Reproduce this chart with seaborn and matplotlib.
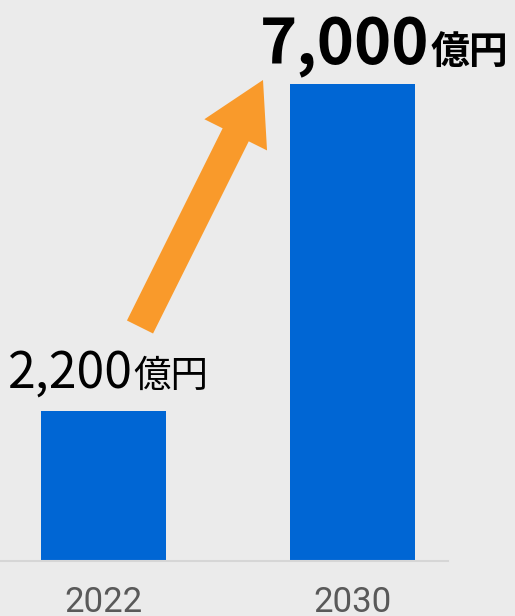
import pandas as pd
import matplotlib
matplotlib.use("Agg")
from matplotlib import pyplot as plt
import seaborn as sns

# data
years = ["2022", "2030"]
values = [2200, 7000]
numbers = ["2,200", "7,000"]
unit = "億円"

bg = "#ebebeb"
bar_color = "#0066d4"
arrow_color = "#f99a2b"

sns.set_theme(style="white")
plt.rcParams["font.family"] = ["Noto Sans CJK JP", "DejaVu Sans"]

df = pd.DataFrame({"year": years, "value": values})

fig = plt.figure(figsize=(5.15, 6.16), dpi=100, facecolor=bg)
ax = fig.add_axes([0, 55 / 616, 448 / 515, 561 / 616])
ax.set_facecolor(bg)

sns.barplot(data=df, x="year", y="value", color=bar_color, width=0.502,
            saturation=1, linewidth=0, ax=ax)

ax.set_xlim(-0.4157, 1.3835)
ax.set_ylim(0, 561 / 477 * 7000)
ax.set_xlabel("")
ax.set_ylabel("")
ax.set_yticks([])
for s in ["top", "left", "right"]:
    ax.spines[s].set_visible(False)
ax.spines["bottom"].set_color("#d6d6d6")
ax.spines["bottom"].set_linewidth(1.5)
ax.tick_params(axis="x", length=0, pad=18, labelsize=25, labelcolor="#595959")
for t in ax.get_xticklabels():
    t.set_family(["Roboto", "DejaVu Sans"])

# value labels: number + smaller unit
label_style = [
    # (dx px, dy px, number size, unit size, weight)
    (29, 24, 36, 27, "normal"),
    (77, 20, 45.5, 28, "bold"),
]
for i, (num, val) in enumerate(zip(numbers, values)):
    dx, dy, ns, us, w = label_style[i]
    ax.annotate(num, xy=(i, val), xytext=(dx, dy), textcoords="offset pixels",
                ha="right", va="baseline", fontsize=ns, fontweight=w,
                color="black")
    ax.annotate(unit, xy=(i, val), xytext=(dx + 1, dy), textcoords="offset pixels",
                ha="left", va="baseline", fontsize=us, fontweight=w,
                color="black")

# growth arrow (figure pixels, origin bottom-left)
ax.annotate("", xy=(263, 616 - 80), xytext=(140, 616 - 327),
            xycoords="figure pixels", textcoords="figure pixels",
            arrowprops=dict(arrowstyle="simple,head_length=2.1,head_width=2.4,tail_width=1.0",
                            mutation_scale=21, color=arrow_color, lw=0,
                            shrinkA=0, shrinkB=0))

fig.savefig("out.png", dpi=100, facecolor=bg)
